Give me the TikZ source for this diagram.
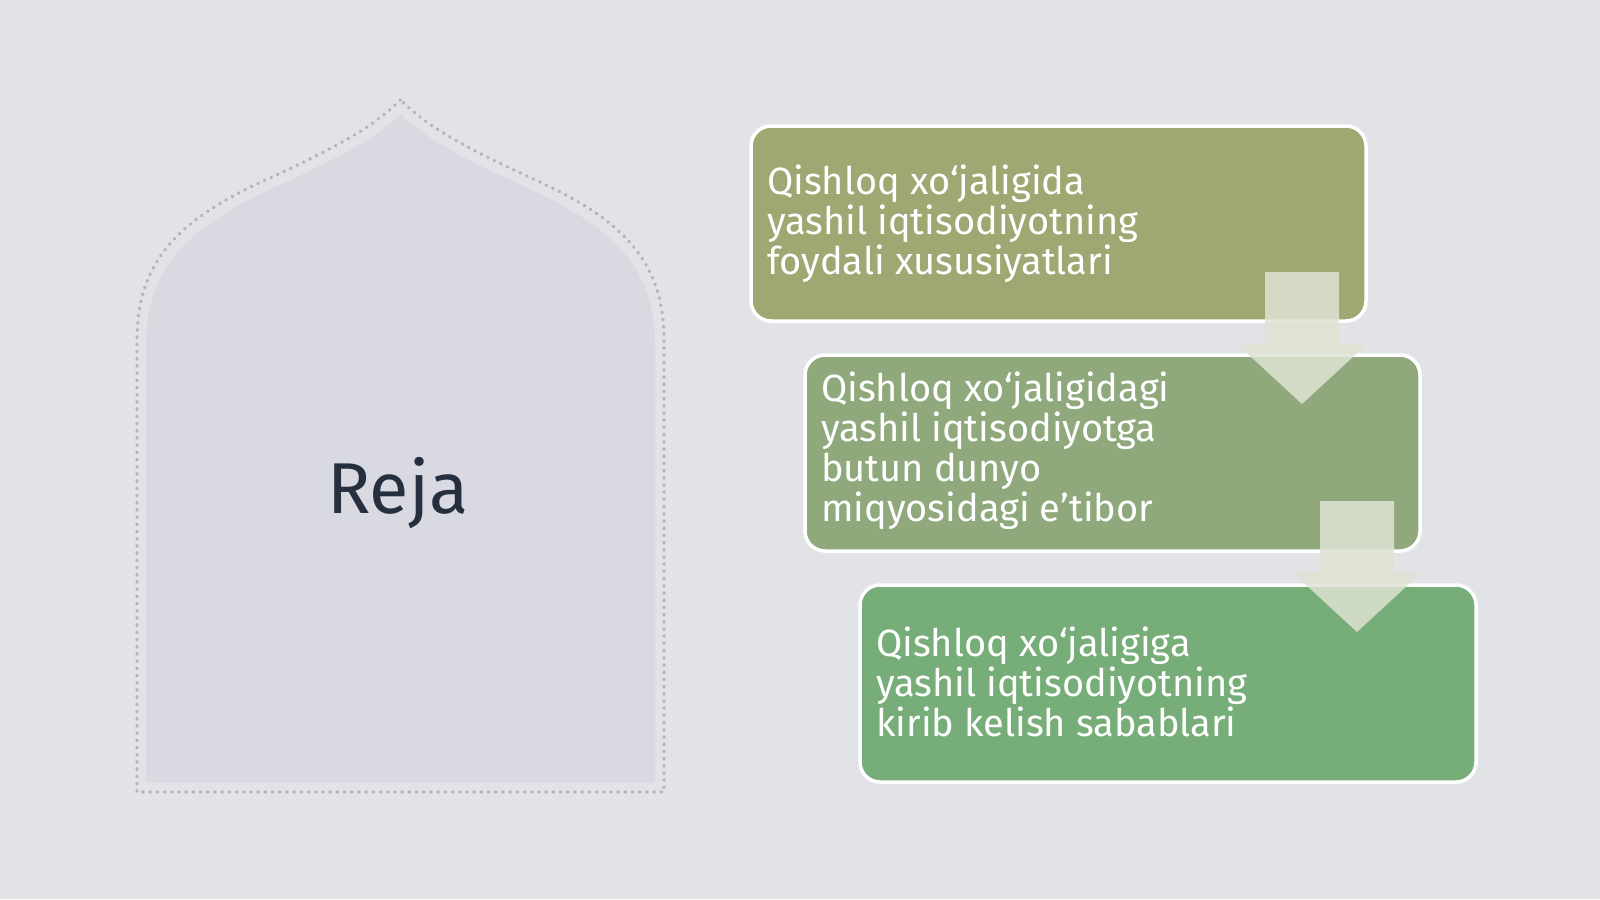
\documentclass[tikz,border=0pt]{standalone}
\usepackage{fontspec}
\setmainfont{Fira Sans}
\definecolor{bg}{HTML}{E2E3E7}
\definecolor{archfill}{HTML}{D8D9E1}
\definecolor{archdot}{HTML}{B4B5BB}
\definecolor{boxA}{HTML}{9DA872}
\definecolor{boxB}{HTML}{8FA87C}
\definecolor{boxC}{HTML}{77AD78}
\definecolor{arrowfill}{HTML}{DFE3D3}
\definecolor{rejacol}{HTML}{262F3D}
\tikzset{
  planbox/.style={draw=white, line width=3.5pt, rounded corners=20pt},
  plantext/.style={anchor=west, align=left, text=white, inner sep=0pt,
    font=\fontsize{38}{40}\selectfont},
  blockarrow/.style={fill=arrowfill, fill opacity=0.85, draw=none},
}
\begin{document}
\begin{tikzpicture}[x=1pt,y=-1pt]
\fill[bg] (0,0) rectangle (1600,899);
\useasboundingbox (0,0) rectangle (1600,899);
% arch fill
\fill[archfill] (400.5,114) .. controls (372,142) and (333,160) .. (276,187)
  .. controls (190,226) and (146,266) .. (146,345) -- (146,782) -- (655,782) -- (655,345)
  .. controls (655,266) and (611,226) .. (525,187)
  .. controls (468,160) and (429,142) .. (400.5,114) -- cycle;
% dotted outline
\draw[archdot, line width=3.4pt, line cap=round, dash pattern=on 0.6pt off 6.6pt]
  (400.5,100) .. controls (370,130) and (330,150) .. (270,178)
  .. controls (180,218) and (137,260) .. (137,340) -- (137,792) -- (664,792) -- (664,340)
  .. controls (664,260) and (621,218) .. (531,178)
  .. controls (471,150) and (431,130) .. (400.5,100) -- cycle;
\node[text=rejacol, font=\fontsize{72}{72}\selectfont, anchor=base] (reja) at (398,513) {Reja};
% boxes
\path[planbox, fill=boxA] (751,126) rectangle (1366,321);
\path[planbox, fill=boxB] (805,355) rectangle (1420,551);
\path[planbox, fill=boxC] (860,585) rectangle (1476,782);
\coordinate (b1) at (767,224);
\coordinate (b2) at (821,451);
\coordinate (b3) at (876,682);
\node[plantext] (t1) at (b1) {Qishloq xo‘jaligida\\yashil iqtisodiyotning\\foydali xususiyatlari};
\node[plantext] (t2) at (b2) {Qishloq xo‘jaligidagi\\yashil iqtisodiyotga\\butun dunyo\\miqyosidagi e’tibor};
\node[plantext] (t3) at (b3) {Qishloq xo‘jaligiga\\yashil iqtisodiyotning\\kirib kelish sabablari};
% arrows
\path[blockarrow] (1265,272) -- (1339,272) -- (1339,344) -- (1367,344) -- (1302,404)
  -- (1237,344) -- (1265,344) -- cycle;
\path[blockarrow] (1320,501) -- (1394,501) -- (1394,572) -- (1422,572) -- (1357,632)
  -- (1292,572) -- (1320,572) -- cycle;
\end{tikzpicture}
\end{document}
